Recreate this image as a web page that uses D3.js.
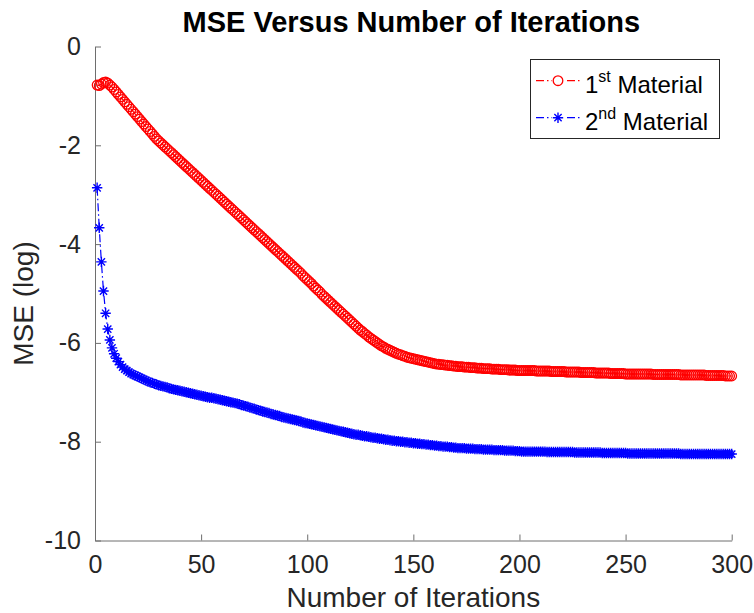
<!DOCTYPE html>
<html>
<head>
<meta charset="utf-8">
<script src="https://cdn.jsdelivr.net/npm/d3@7"></script>
<style>
  body { margin: 0; background: #fff; }
  svg { font-family: "Liberation Sans", Arial, Helvetica, sans-serif; }
</style>
</head>
<body>
<div class="mse-chart"></div>
<script>
// MSE (log) per iteration
var material1 = [
  -0.78,-0.79,-0.76,-0.73,-0.72,-0.74,-0.78,-0.82,-0.87,-0.92,
  -0.97,-1.02,-1.07,-1.12,-1.17,-1.22,-1.27,-1.32,-1.37,-1.42,
  -1.47,-1.52,-1.57,-1.62,-1.67,-1.72,-1.77,-1.82,-1.87,-1.91,
  -1.95,-1.99,-2.03,-2.07,-2.11,-2.15,-2.19,-2.23,-2.27,-2.31,
  -2.35,-2.39,-2.43,-2.47,-2.51,-2.55,-2.59,-2.63,-2.67,-2.71,
  -2.75,-2.79,-2.83,-2.87,-2.91,-2.95,-2.99,-3.03,-3.07,-3.11,
  -3.15,-3.19,-3.23,-3.27,-3.31,-3.35,-3.39,-3.43,-3.47,-3.51,
  -3.55,-3.59,-3.63,-3.67,-3.71,-3.75,-3.79,-3.83,-3.87,-3.91,
  -3.95,-3.99,-4.03,-4.07,-4.11,-4.15,-4.19,-4.23,-4.27,-4.31,
  -4.35,-4.39,-4.43,-4.47,-4.51,-4.55,-4.59,-4.64,-4.68,-4.72,
  -4.76,-4.80,-4.85,-4.89,-4.93,-4.97,-5.02,-5.06,-5.10,-5.14,
  -5.18,-5.22,-5.26,-5.30,-5.34,-5.38,-5.42,-5.46,-5.50,-5.54,
  -5.58,-5.62,-5.66,-5.70,-5.74,-5.77,-5.81,-5.84,-5.88,-5.91,
  -5.94,-5.97,-6.00,-6.03,-6.06,-6.08,-6.11,-6.13,-6.15,-6.17,
  -6.19,-6.21,-6.23,-6.24,-6.26,-6.27,-6.29,-6.30,-6.31,-6.32,
  -6.33,-6.34,-6.35,-6.36,-6.37,-6.38,-6.39,-6.40,-6.41,-6.42,
  -6.43,-6.43,-6.44,-6.44,-6.45,-6.45,-6.46,-6.46,-6.47,-6.47,
  -6.48,-6.48,-6.48,-6.49,-6.49,-6.49,-6.50,-6.50,-6.50,-6.51,
  -6.51,-6.51,-6.52,-6.52,-6.52,-6.52,-6.53,-6.53,-6.53,-6.53,
  -6.54,-6.54,-6.54,-6.54,-6.55,-6.55,-6.55,-6.55,-6.56,-6.56,
  -6.56,-6.56,-6.56,-6.56,-6.56,-6.56,-6.56,-6.57,-6.57,-6.57,
  -6.57,-6.57,-6.57,-6.57,-6.58,-6.58,-6.58,-6.58,-6.58,-6.58,
  -6.58,-6.59,-6.59,-6.59,-6.59,-6.59,-6.59,-6.59,-6.60,-6.60,
  -6.60,-6.60,-6.60,-6.60,-6.60,-6.61,-6.61,-6.61,-6.61,-6.61,
  -6.61,-6.61,-6.62,-6.62,-6.62,-6.62,-6.62,-6.62,-6.62,-6.63,
  -6.63,-6.63,-6.63,-6.63,-6.63,-6.63,-6.63,-6.63,-6.63,-6.63,
  -6.63,-6.63,-6.64,-6.64,-6.64,-6.64,-6.64,-6.64,-6.64,-6.64,
  -6.64,-6.64,-6.64,-6.64,-6.64,-6.65,-6.65,-6.65,-6.65,-6.65,
  -6.65,-6.65,-6.65,-6.65,-6.65,-6.65,-6.65,-6.66,-6.66,-6.66,
  -6.66,-6.66,-6.66,-6.66,-6.66,-6.66,-6.67,-6.67,-6.67,-6.67
];
var material2 = [
  -2.86,-3.67,-4.36,-4.95,-5.40,-5.72,-5.94,-6.10,-6.22,-6.31,
  -6.38,-6.44,-6.49,-6.53,-6.56,-6.59,-6.62,-6.64,-6.66,-6.68,
  -6.70,-6.72,-6.74,-6.76,-6.78,-6.80,-6.81,-6.83,-6.84,-6.86,
  -6.87,-6.88,-6.89,-6.90,-6.92,-6.93,-6.94,-6.95,-6.96,-6.97,
  -6.98,-6.99,-7.00,-7.01,-7.02,-7.03,-7.04,-7.05,-7.06,-7.07,
  -7.08,-7.09,-7.10,-7.11,-7.11,-7.12,-7.13,-7.14,-7.15,-7.16,
  -7.17,-7.18,-7.19,-7.20,-7.21,-7.22,-7.23,-7.24,-7.26,-7.27,
  -7.28,-7.29,-7.31,-7.32,-7.33,-7.35,-7.36,-7.37,-7.39,-7.40,
  -7.41,-7.42,-7.44,-7.45,-7.46,-7.47,-7.48,-7.50,-7.51,-7.52,
  -7.53,-7.54,-7.55,-7.56,-7.57,-7.58,-7.59,-7.61,-7.62,-7.63,
  -7.64,-7.65,-7.66,-7.67,-7.68,-7.69,-7.70,-7.71,-7.72,-7.73,
  -7.74,-7.75,-7.76,-7.77,-7.78,-7.79,-7.80,-7.81,-7.82,-7.83,
  -7.84,-7.85,-7.86,-7.86,-7.87,-7.88,-7.89,-7.89,-7.90,-7.91,
  -7.92,-7.92,-7.93,-7.94,-7.94,-7.95,-7.96,-7.96,-7.97,-7.98,
  -7.98,-7.99,-7.99,-8.00,-8.00,-8.01,-8.01,-8.02,-8.02,-8.03,
  -8.03,-8.04,-8.04,-8.05,-8.05,-8.06,-8.06,-8.07,-8.07,-8.08,
  -8.08,-8.09,-8.09,-8.10,-8.10,-8.10,-8.11,-8.11,-8.12,-8.12,
  -8.13,-8.13,-8.13,-8.13,-8.14,-8.14,-8.14,-8.14,-8.15,-8.15,
  -8.15,-8.15,-8.16,-8.16,-8.16,-8.16,-8.16,-8.17,-8.17,-8.17,
  -8.17,-8.17,-8.18,-8.18,-8.18,-8.18,-8.18,-8.19,-8.19,-8.19,
  -8.20,-8.20,-8.20,-8.20,-8.20,-8.20,-8.20,-8.20,-8.20,-8.20,
  -8.20,-8.20,-8.21,-8.21,-8.21,-8.21,-8.21,-8.21,-8.21,-8.21,
  -8.21,-8.21,-8.21,-8.21,-8.21,-8.22,-8.22,-8.22,-8.22,-8.22,
  -8.22,-8.22,-8.22,-8.22,-8.22,-8.22,-8.22,-8.22,-8.23,-8.23,
  -8.23,-8.23,-8.23,-8.23,-8.23,-8.23,-8.23,-8.23,-8.23,-8.23,
  -8.24,-8.24,-8.24,-8.24,-8.24,-8.24,-8.24,-8.24,-8.24,-8.24,
  -8.24,-8.24,-8.24,-8.24,-8.24,-8.24,-8.24,-8.24,-8.24,-8.24,
  -8.24,-8.24,-8.24,-8.24,-8.24,-8.25,-8.25,-8.25,-8.25,-8.25,
  -8.25,-8.25,-8.25,-8.25,-8.25,-8.25,-8.25,-8.25,-8.25,-8.25,
  -8.25,-8.25,-8.25,-8.25,-8.25,-8.25,-8.25,-8.25,-8.25,-8.25
];
var iterations = d3.range(1, material1.length + 1);
var xTicks = [0, 50, 100, 150, 200, 250, 300];
var yTicks = [0, -2, -4, -6, -8, -10];

var svgWidth = 754;
var svgHeight = 613;
var axisColor = "#262626";
var lineColor = "#6e6e6e";

var svg = d3.select(".mse-chart")
            .append("svg")
            .attr("width", svgWidth)
            .attr("height", svgHeight);

var x = d3.scaleLinear().domain([0, 300]).range([95, 731.7]);
var y = d3.scaleLinear().domain([-10, 0]).range([540.5, 46.5]);

// axes (MATLAB style, box off, ticks inward)
var xAxis = svg.append("g")
    .attr("transform", "translate(0," + y(-10) + ")")
    .call(d3.axisBottom(x).tickValues(xTicks).tickSizeInner(-6).tickSizeOuter(0).tickPadding(15));
var yAxis = svg.append("g")
    .attr("transform", "translate(" + x(0) + ",0)")
    .call(d3.axisLeft(y).tickValues(yTicks).tickSizeInner(-6).tickSizeOuter(0).tickPadding(14)
      .tickFormat(function(d) { return String(d); }));

[xAxis, yAxis].forEach(function(a) {
  a.select(".domain").attr("stroke", lineColor).attr("stroke-width", 1);
  a.selectAll(".tick line").attr("stroke", lineColor).attr("stroke-width", 1);
  a.selectAll(".tick text").attr("fill", axisColor).style("font-size", "25px").style("font-family", "Liberation Sans, Arial, sans-serif");
});

var series = [
  {name: "1", sup: "st", values: material1, color: "#ff0000", marker: "circle"},
  {name: "2", sup: "nd", values: material2, color: "#0000ff", marker: "star"}
];

var line = d3.line()
    .x(function(d) { return x(d[0]); })
    .y(function(d) { return y(d[1]); });

function starPath(s) {
  var a = s * 0.7;
  return "M" + (-s) + ",0H" + s + "M0," + (-s) + "V" + s +
         "M" + (-a) + "," + (-a) + "L" + a + "," + a +
         "M" + (-a) + "," + a + "L" + a + "," + (-a);
}

function drawMarker(g, kind, color) {
  if (kind === "circle") {
    g.append("circle").attr("r", 4.8).attr("fill", "none")
      .attr("stroke", color).attr("stroke-width", 1.3);
  } else {
    g.append("path").attr("d", starPath(5.2)).attr("fill", "none")
      .attr("stroke", color).attr("stroke-width", 1.4);
  }
}

series.forEach(function(s) {
  var pts = iterations.map(function(it, i) { return [it, s.values[i]]; });
  svg.append("path")
    .datum(pts)
    .attr("d", line)
    .attr("fill", "none")
    .attr("stroke", s.color)
    .attr("stroke-width", 1.2)
    .attr("stroke-dasharray", "8,3,1.5,3");
  svg.append("g").selectAll("g")
    .data(pts)
    .enter()
    .append("g")
    .attr("transform", function(d) { return "translate(" + x(d[0]) + "," + y(d[1]) + ")"; })
    .each(function() { drawMarker(d3.select(this), s.marker, s.color); });
});

// title and axis labels
svg.append("text")
  .attr("x", (x(0) + x(300)) / 2 - 2)
  .attr("y", 32)
  .attr("text-anchor", "middle")
  .style("font-size", "29px")
  .style("font-weight", "bold")
  .attr("fill", "#000")
  .text("MSE Versus Number of Iterations");

svg.append("text")
  .attr("x", (x(0) + x(300)) / 2)
  .attr("y", 607)
  .attr("text-anchor", "middle")
  .style("font-size", "28px")
  .attr("fill", axisColor)
  .text("Number of Iterations");

svg.append("text")
  .attr("transform", "translate(33," + ((y(0) + y(-10)) / 2 + 10) + ") rotate(-90)")
  .attr("text-anchor", "middle")
  .style("font-size", "28px")
  .attr("fill", axisColor)
  .text("MSE (log)");

// legend
var legend = svg.append("g");
legend.append("rect")
  .attr("x", 530.5).attr("y", 59.5)
  .attr("width", 189).attr("height", 79)
  .attr("fill", "#fff")
  .attr("stroke", axisColor)
  .attr("stroke-width", 1);

series.forEach(function(s, i) {
  var ly = 80.7 + i * 37;
  var g = legend.append("g");
  g.append("line")
    .attr("x1", 536).attr("x2", 580)
    .attr("y1", ly).attr("y2", ly)
    .attr("stroke", s.color).attr("stroke-width", 1.2)
    .attr("stroke-dasharray", "8,3,1.5,3");
  var m = g.append("g").attr("transform", "translate(558," + ly + ")");
  m.append("rect").attr("x", -6).attr("y", -6).attr("width", 12).attr("height", 12).attr("fill", "#fff");
  drawMarker(m, s.marker, s.color);
  var t = g.append("text")
    .attr("x", 585)
    .attr("y", ly + 12.5)
    .attr("fill", "#000")
    .style("font-size", "24px");
  t.append("tspan").text(s.name);
  t.append("tspan").attr("dy", -11).style("font-size", "16px").text(s.sup);
  t.append("tspan").attr("dy", 11).text(" Material");
});
</script>
</body>
</html>
